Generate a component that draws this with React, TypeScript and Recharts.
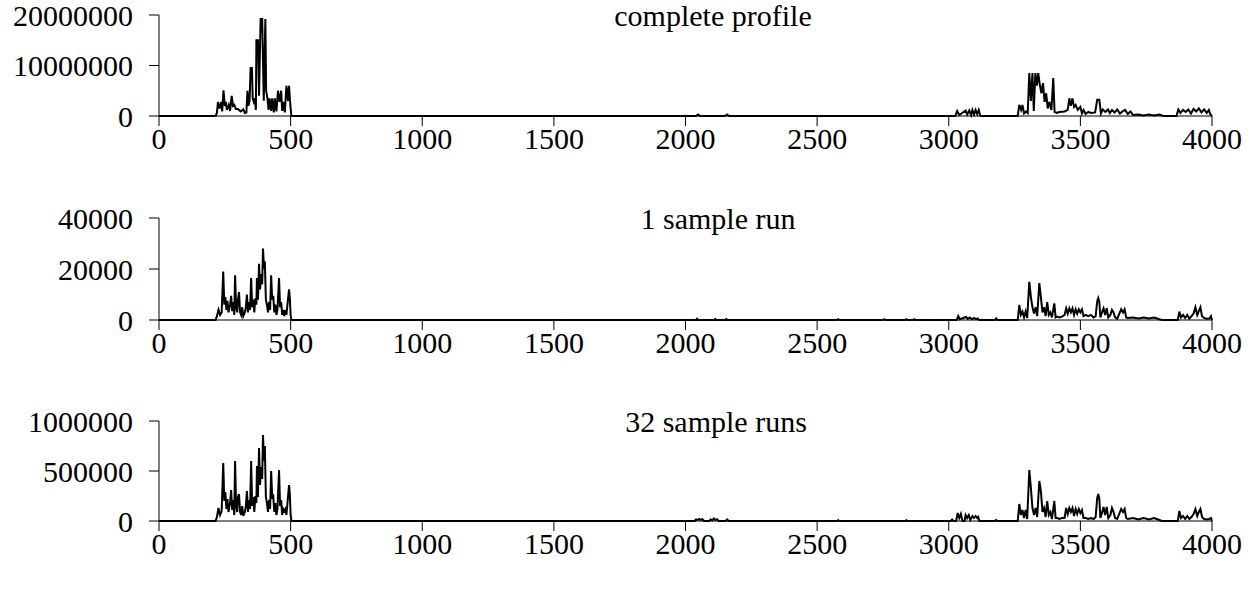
import { LineChart, Line, XAxis, YAxis } from "recharts";

// [position, count] pairs
const completeProfile: [number, number][] = [
  [0, 0], [215, 0], [220, 600000], [224, 2800000], [230, 1500000], [236, 2800000], [240, 900000],
  [245, 5100000], [250, 2000000], [254, 2800000], [258, 1200000], [265, 2200000], [270, 1000000],
  [276, 4000000], [281, 2000000], [286, 2200000], [292, 1400000], [300, 1400000], [310, 900000],
  [320, 1300000], [326, 600000], [332, 700000], [336, 5000000], [340, 2000000], [344, 3000000],
  [348, 9500000], [353, 9500000], [356, 3500000], [360, 2800000], [364, 3500000], [368, 1200000],
  [370, 15000000], [376, 15000000], [380, 4000000], [386, 19200000], [392, 19200000], [398, 3000000],
  [404, 19200000], [407, 5000000], [412, 3500000], [416, 1200000], [420, 3500000], [426, 1000000],
  [430, 3500000], [436, 700000], [440, 3500000], [446, 900000], [452, 5000000], [458, 2800000],
  [464, 5000000], [468, 1000000], [472, 2800000], [478, 700000], [484, 6000000], [490, 3000000],
  [494, 6000000], [497, 3500000], [500, 1500000], [503, 0],
  [2040, 0], [2048, 300000], [2055, 0], [2150, 0], [2158, 300000], [2165, 0],
  [3025, 0], [3032, 1000000], [3040, 200000], [3064, 1100000], [3070, 300000], [3078, 1100000],
  [3085, 200000], [3090, 1200000], [3096, 300000], [3102, 1200000], [3108, 400000], [3114, 1200000],
  [3120, 0], [3262, 0], [3268, 2200000], [3275, 1200000], [3280, 2200000], [3286, 500000],
  [3294, 900000], [3300, 600000], [3306, 8500000], [3312, 3000000], [3318, 8500000], [3323, 1000000],
  [3329, 8500000], [3335, 6000000], [3340, 8500000], [3345, 6500000], [3352, 4500000], [3358, 6500000],
  [3364, 2800000], [3370, 4500000], [3376, 1500000], [3382, 2800000], [3390, 1200000], [3397, 7500000],
  [3402, 800000], [3410, 600000], [3420, 800000], [3440, 900000], [3452, 1200000], [3458, 3500000],
  [3464, 2000000], [3470, 3500000], [3476, 1800000], [3482, 2200000], [3490, 1200000], [3500, 1800000],
  [3506, 500000], [3512, 1200000], [3520, 400000], [3530, 800000], [3540, 600000], [3556, 700000],
  [3564, 3200000], [3572, 3200000], [3578, 500000], [3585, 1300000], [3595, 800000], [3605, 1300000],
  [3612, 600000], [3620, 1200000], [3630, 700000], [3640, 1300000], [3650, 500000], [3660, 900000],
  [3670, 1200000], [3680, 400000], [3690, 900000], [3700, 200000], [3720, 300000], [3740, 100000],
  [3760, 300000], [3780, 100000], [3800, 300000], [3815, 0], [3865, 0], [3872, 1300000],
  [3880, 600000], [3890, 1200000], [3900, 800000], [3910, 1300000], [3920, 500000], [3930, 1400000],
  [3940, 900000], [3950, 1500000], [3960, 700000], [3970, 1300000], [3980, 600000], [3988, 1200000],
  [3994, 300000], [4000, 0],
];

const oneRun: [number, number][] = [
  [0, 0], [215, 0], [220, 1500], [226, 4000], [232, 2000], [238, 3000], [244, 19000], [248, 6000],
  [252, 9000], [256, 4000], [260, 7500], [264, 3000], [270, 6000], [274, 9500], [278, 3500],
  [282, 7000], [286, 2000], [289, 17500], [293, 5000], [297, 3000], [300, 8000], [304, 11000],
  [308, 3000], [312, 2000], [316, 5000], [320, 1500], [326, 3000], [330, 5000], [334, 10000],
  [338, 3000], [342, 7000], [346, 4000], [350, 16500], [354, 5000], [358, 8000], [362, 3000],
  [366, 8500], [370, 6000], [372, 16500], [376, 8000], [380, 22000], [384, 12000], [388, 18000],
  [392, 14000], [395, 28000], [399, 20000], [402, 23000], [406, 8000], [410, 6000], [414, 3000],
  [418, 7000], [422, 4000], [426, 17500], [430, 8000], [434, 9500], [438, 3000], [442, 6000],
  [446, 2000], [450, 4000], [456, 16500], [460, 5000], [464, 7000], [468, 2000], [472, 4000],
  [476, 1500], [480, 4000], [484, 2000], [488, 6000], [491, 9000], [494, 12000], [497, 8500],
  [500, 2000], [503, 0],
  [2040, 0], [2044, 500], [2048, 0], [2108, 0], [2113, 400], [2118, 0], [2150, 0], [2155, 400],
  [2160, 0], [2575, 0], [2580, 300], [2585, 0], [2750, 0], [2755, 300], [2760, 0], [2835, 0],
  [2839, 300], [2844, 0], [2865, 0], [2869, 300], [2874, 0],
  [3030, 0], [3036, 1600], [3042, 300], [3066, 1200], [3072, 400], [3080, 1000], [3088, 300],
  [3096, 800], [3104, 300], [3110, 600], [3115, 0], [3176, 0], [3180, 600], [3185, 0],
  [3262, 0], [3268, 5900], [3274, 2000], [3280, 3300], [3286, 1000], [3292, 3300], [3298, 800],
  [3306, 15000], [3312, 9000], [3318, 5000], [3324, 2500], [3330, 5000], [3336, 1500], [3344, 14500],
  [3350, 9000], [3356, 3000], [3362, 5000], [3368, 1500], [3374, 7000], [3380, 2000], [3386, 3000],
  [3392, 1000], [3401, 6500], [3406, 1000], [3412, 1300], [3420, 1000], [3430, 1300], [3440, 2000],
  [3446, 4600], [3452, 2500], [3458, 4600], [3464, 3000], [3470, 4600], [3476, 2000], [3482, 4200],
  [3488, 2500], [3494, 4200], [3500, 3000], [3506, 4200], [3512, 1500], [3520, 2000], [3530, 1500],
  [3540, 2000], [3550, 1000], [3558, 1500], [3564, 7500], [3568, 8600], [3572, 7000], [3576, 1000],
  [3582, 3000], [3588, 4600], [3594, 2000], [3600, 4600], [3606, 1000], [3614, 2000], [3620, 4000],
  [3626, 3000], [3632, 1000], [3640, 500], [3655, 4200], [3662, 3000], [3668, 4200], [3674, 1000],
  [3680, 800], [3700, 1000], [3720, 600], [3740, 1000], [3760, 600], [3780, 1000], [3800, 300],
  [3810, 0], [3870, 0], [3876, 3300], [3882, 1000], [3890, 2000], [3898, 800], [3906, 2000],
  [3914, 500], [3922, 1500], [3930, 2500], [3937, 5000], [3944, 2000], [3950, 3500], [3956, 5000],
  [3962, 1500], [3970, 800], [3980, 500], [3990, 600], [3996, 1500], [4000, 0],
];

const thirtyTwoRuns: [number, number][] = [
  [0, 0], [215, 0], [220, 40000], [226, 130000], [232, 60000], [238, 100000], [244, 580000],
  [248, 200000], [252, 290000], [256, 120000], [260, 220000], [264, 90000], [270, 180000],
  [274, 310000], [278, 110000], [282, 210000], [286, 60000], [289, 600000], [293, 150000],
  [297, 90000], [300, 240000], [304, 270000], [308, 90000], [312, 60000], [316, 150000],
  [320, 50000], [326, 90000], [330, 150000], [334, 300000], [338, 90000], [342, 210000],
  [346, 120000], [350, 600000], [354, 150000], [358, 240000], [362, 90000], [366, 250000],
  [370, 180000], [372, 550000], [376, 240000], [380, 730000], [384, 360000], [388, 540000],
  [392, 420000], [395, 860000], [399, 600000], [402, 750000], [406, 240000], [410, 180000],
  [414, 90000], [418, 210000], [422, 120000], [426, 500000], [430, 240000], [434, 250000],
  [438, 90000], [442, 180000], [446, 60000], [450, 120000], [456, 510000], [460, 150000],
  [464, 210000], [468, 60000], [472, 120000], [476, 100000], [480, 120000], [484, 60000],
  [488, 180000], [491, 270000], [494, 360000], [497, 270000], [500, 60000], [503, 0],
  [2035, 0], [2040, 15000], [2046, 10000], [2052, 20000], [2058, 12000], [2064, 18000], [2070, 0],
  [2090, 0], [2096, 15000], [2102, 8000], [2108, 25000], [2114, 10000], [2120, 18000], [2126, 0],
  [2152, 0], [2158, 15000], [2164, 0], [2575, 0], [2580, 8000], [2585, 0], [2835, 0], [2839, 8000],
  [2844, 0], [3008, 0], [3013, 15000], [3018, 0], [3028, 0], [3034, 80000], [3040, 30000],
  [3046, 70000], [3052, 0], [3060, 0], [3064, 60000], [3070, 30000], [3076, 60000], [3082, 10000],
  [3090, 50000], [3096, 30000], [3102, 50000], [3108, 30000], [3112, 40000], [3116, 0],
  [3175, 0], [3180, 10000], [3185, 0],
  [3262, 0], [3268, 170000], [3274, 60000], [3280, 110000], [3286, 30000], [3292, 110000],
  [3298, 20000], [3306, 510000], [3312, 330000], [3318, 130000], [3324, 60000], [3330, 130000],
  [3336, 40000], [3344, 400000], [3350, 300000], [3356, 90000], [3362, 130000], [3368, 40000],
  [3374, 200000], [3380, 60000], [3386, 90000], [3392, 20000], [3401, 200000], [3406, 30000],
  [3412, 30000], [3420, 20000], [3430, 30000], [3440, 30000], [3446, 130000], [3452, 70000],
  [3458, 130000], [3464, 90000], [3470, 130000], [3476, 50000], [3482, 120000], [3488, 70000],
  [3494, 120000], [3500, 80000], [3506, 110000], [3512, 30000], [3520, 30000], [3530, 20000],
  [3540, 30000], [3550, 20000], [3558, 40000], [3564, 230000], [3568, 270000], [3572, 220000],
  [3576, 30000], [3582, 80000], [3588, 140000], [3594, 60000], [3600, 140000], [3606, 30000],
  [3614, 60000], [3620, 130000], [3626, 90000], [3632, 30000], [3640, 20000], [3655, 120000],
  [3662, 90000], [3668, 120000], [3674, 30000], [3680, 20000], [3700, 30000], [3720, 15000],
  [3740, 30000], [3760, 15000], [3780, 30000], [3800, 10000], [3810, 0], [3870, 0], [3876, 100000],
  [3882, 30000], [3890, 50000], [3898, 20000], [3906, 50000], [3914, 20000], [3922, 40000],
  [3930, 70000], [3937, 120000], [3944, 50000], [3950, 90000], [3956, 120000], [3962, 40000],
  [3970, 20000], [3980, 15000], [3990, 20000], [3996, 30000], [4000, 0],
];

const xTicks = [0, 500, 1000, 1500, 2000, 2500, 3000, 3500, 4000];
const profileTicks = [0, 10000000, 20000000];
const oneRunTicks = [0, 20000, 40000];
const thirtyTwoTicks = [0, 500000, 1000000];

const FONT = "'Liberation Serif', 'Times New Roman', serif";
const FONT_SIZE = 30;
const tickStyle = { fill: "#000", fontSize: FONT_SIZE, fontFamily: FONT };

type PanelProps = {
  title: string;
  data: [number, number][];
  yTicks: number[];
  top: number;
  marginTop: number;
  plotHeight: number;
  titleX: number;
};

function Panel({ title, data, yTicks, top, marginTop, plotHeight, titleX }: PanelProps) {
  const rows = data.map(([x, y]) => ({ x, y }));
  const xAxisHeight = 62;
  return (
    <div style={{ position: "absolute", left: 0, top }}>
      <LineChart
        width={1257}
        height={marginTop + plotHeight + xAxisHeight}
        data={rows}
        margin={{ top: marginTop, right: 45, left: 0, bottom: 0 }}
      >
        <XAxis
          dataKey="x"
          type="number"
          domain={[0, 4000]}
          ticks={xTicks}
          height={xAxisHeight}
          tickSize={10}
          tickMargin={2}
          tick={tickStyle}
          stroke="#000"
          interval={0}
        />
        <YAxis
          type="number"
          domain={[0, yTicks[yTicks.length - 1]]}
          ticks={yTicks}
          width={159}
          tickSize={10}
          tickMargin={16}
          tick={tickStyle}
          stroke="#000"
          interval={0}
        />
        <Line
          type="linear"
          dataKey="y"
          stroke="#000"
          strokeWidth={2}
          dot={false}
          isAnimationActive={false}
        />
      </LineChart>
      <div
        style={{
          position: "absolute",
          left: titleX,
          top: marginTop - 16,
          transform: "translateX(-50%)",
          fontFamily: FONT,
          fontSize: FONT_SIZE,
          lineHeight: "34px",
          whiteSpace: "nowrap",
          color: "#000",
        }}
      >
        {title}
      </div>
    </div>
  );
}

export default function App() {
  return (
    <div style={{ position: "absolute", left: 0, top: 0, width: 1257, height: 590, background: "#fff", overflow: "hidden" }}>
      <Panel title="complete profile" data={completeProfile} yTicks={profileTicks}
        top={0} marginTop={15} plotHeight={101} titleX={713} />
      <Panel title="1 sample run" data={oneRun} yTicks={oneRunTicks}
        top={203} marginTop={15} plotHeight={102} titleX={718} />
      <Panel title="32 sample runs" data={thirtyTwoRuns} yTicks={thirtyTwoTicks}
        top={405} marginTop={16} plotHeight={100} titleX={716} />
    </div>
  );
}
